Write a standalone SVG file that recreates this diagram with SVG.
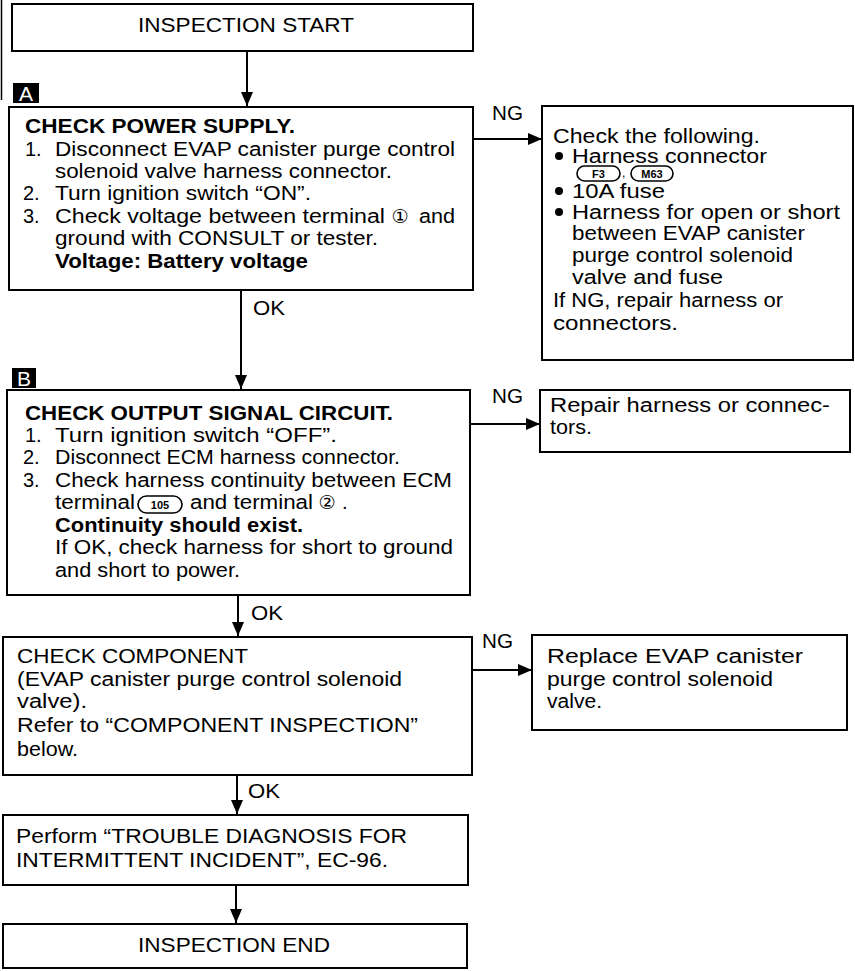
<svg xmlns="http://www.w3.org/2000/svg" width="855" height="971" viewBox="0 0 855 971">
<style>
.box{fill:#fff;stroke:#000;stroke-width:2}
.t{font-family:"Liberation Sans",Arial,Helvetica,sans-serif;font-size:20px;fill:#000}
.b{font-weight:bold}
.cap{fill:#fff;stroke:#000;stroke-width:1.6}
.ct{font-family:"Liberation Sans",Arial,Helvetica,sans-serif;font-size:11px;font-weight:bold;text-anchor:middle;fill:#000}
.circ{font-family:"DejaVu Sans",sans-serif;font-size:19px;text-anchor:middle;fill:#000}
.edge{stroke:#000;stroke-width:2;fill:none}
.tag{fill:#000}
.tagt{font-family:"Liberation Sans",Arial,sans-serif;font-size:21px;fill:#fff;text-anchor:middle}
</style>
<defs>
<marker id="ah" markerUnits="userSpaceOnUse" markerWidth="14" markerHeight="12" refX="14" refY="6" orient="auto">
<path d="M0,0 L14,6 L0,12 z" fill="#000"/>
</marker>
</defs>
<line x1="1.5" y1="0" x2="1.5" y2="100" stroke="#000" stroke-width="1.5"/>

<g id="start">
<rect class="box" x="12" y="4" width="461" height="47"/>
<text class="t" x="138" y="32" textLength="216" lengthAdjust="spacingAndGlyphs">INSPECTION START</text>
</g>

<g id="tagA">
<rect class="tag" x="13" y="83" width="26" height="20"/>
<text class="tagt" x="26" y="101">A</text>
</g>

<g id="checkPower">
<rect class="box" x="9" y="107" width="464" height="183"/>
<text class="t b" x="25" y="133" textLength="270" lengthAdjust="spacingAndGlyphs">CHECK POWER SUPPLY.</text>
<text class="t" x="25" y="156">1.</text>
<text class="t" x="55" y="156" textLength="400" lengthAdjust="spacingAndGlyphs">Disconnect EVAP canister purge control</text>
<text class="t" x="55" y="178" textLength="337" lengthAdjust="spacingAndGlyphs">solenoid valve harness connector.</text>
<text class="t" x="23" y="200">2.</text>
<text class="t" x="55" y="200" textLength="256" lengthAdjust="spacingAndGlyphs">Turn ignition switch “ON”.</text>
<text class="t" x="23" y="223">3.</text>
<text class="t" x="55" y="223" textLength="330" lengthAdjust="spacingAndGlyphs">Check voltage between terminal</text>
<text class="circ" x="400" y="223">①</text>
<text class="t" x="419" y="223" textLength="36" lengthAdjust="spacingAndGlyphs">and</text>
<text class="t" x="55" y="245" textLength="323" lengthAdjust="spacingAndGlyphs">ground with CONSULT or tester.</text>
<text class="t b" x="55" y="268" textLength="253" lengthAdjust="spacingAndGlyphs">Voltage: Battery voltage</text>
</g>

<g id="checkFollowing">
<rect class="box" x="542" y="106" width="311" height="254"/>
<text class="t" x="553" y="143" textLength="207" lengthAdjust="spacingAndGlyphs">Check the following.</text>
<circle cx="559" cy="156" r="4"/>
<text class="t" x="572" y="163" textLength="195" lengthAdjust="spacingAndGlyphs">Harness connector</text>
<rect class="cap" x="577" y="166" width="43" height="15" rx="7.5"/>
<text class="ct" x="598.5" y="177.5">F3</text>
<text class="t" x="622" y="177" style="font-size:12px">,</text>
<rect class="cap" x="631" y="166" width="42" height="15" rx="7.5"/>
<text class="ct" x="652" y="177.5">M63</text>
<circle cx="559" cy="191" r="4"/>
<text class="t" x="572" y="198" textLength="93" lengthAdjust="spacingAndGlyphs">10A fuse</text>
<circle cx="559" cy="212" r="4"/>
<text class="t" x="572" y="219" textLength="268" lengthAdjust="spacingAndGlyphs">Harness for open or short</text>
<text class="t" x="572" y="240" textLength="233" lengthAdjust="spacingAndGlyphs">between EVAP canister</text>
<text class="t" x="572" y="262" textLength="221" lengthAdjust="spacingAndGlyphs">purge control solenoid</text>
<text class="t" x="572" y="284" textLength="151" lengthAdjust="spacingAndGlyphs">valve and fuse</text>
<text class="t" x="553" y="307" textLength="230" lengthAdjust="spacingAndGlyphs">If NG, repair harness or</text>
<text class="t" x="553" y="330" textLength="125" lengthAdjust="spacingAndGlyphs">connectors.</text>
</g>

<g id="tagB">
<rect class="tag" x="12" y="368" width="24" height="20"/>
<text class="tagt" x="24" y="386">B</text>
</g>

<g id="checkOutput">
<rect class="box" x="7" y="390" width="463" height="205"/>
<text class="t b" x="25" y="420" textLength="368" lengthAdjust="spacingAndGlyphs">CHECK OUTPUT SIGNAL CIRCUIT.</text>
<text class="t" x="25" y="442">1.</text>
<text class="t" x="55" y="442" textLength="282" lengthAdjust="spacingAndGlyphs">Turn ignition switch “OFF”.</text>
<text class="t" x="23" y="464">2.</text>
<text class="t" x="55" y="464" textLength="345" lengthAdjust="spacingAndGlyphs">Disconnect ECM harness connector.</text>
<text class="t" x="23" y="487">3.</text>
<text class="t" x="55" y="487" textLength="397" lengthAdjust="spacingAndGlyphs">Check harness continuity between ECM</text>
<text class="t" x="55" y="509" textLength="80" lengthAdjust="spacingAndGlyphs">terminal</text>
<rect class="cap" x="138" y="496" width="44" height="17" rx="8.5"/>
<text class="ct" x="160" y="508.5">105</text>
<text class="t" x="190" y="509" textLength="123" lengthAdjust="spacingAndGlyphs">and terminal</text>
<text class="circ" x="327" y="509">②</text>
<text class="t" x="342" y="509">.</text>
<text class="t b" x="55" y="532" textLength="248" lengthAdjust="spacingAndGlyphs">Continuity should exist.</text>
<text class="t" x="55" y="554" textLength="398" lengthAdjust="spacingAndGlyphs">If OK, check harness for short to ground</text>
<text class="t" x="55" y="577" textLength="185" lengthAdjust="spacingAndGlyphs">and short to power.</text>
</g>

<g id="repairHarness">
<rect class="box" x="540" y="390" width="310" height="62"/>
<text class="t" x="550" y="412" textLength="280" lengthAdjust="spacingAndGlyphs">Repair harness or connec-</text>
<text class="t" x="550" y="434" textLength="42" lengthAdjust="spacingAndGlyphs">tors.</text>
</g>

<g id="checkComponent">
<rect class="box" x="3" y="637" width="469" height="138"/>
<text class="t" x="17" y="663" textLength="231" lengthAdjust="spacingAndGlyphs">CHECK COMPONENT</text>
<text class="t" x="17" y="686" textLength="385" lengthAdjust="spacingAndGlyphs">(EVAP canister purge control solenoid</text>
<text class="t" x="17" y="708" textLength="70" lengthAdjust="spacingAndGlyphs">valve).</text>
<text class="t" x="17" y="732" textLength="401" lengthAdjust="spacingAndGlyphs">Refer to “COMPONENT INSPECTION”</text>
<text class="t" x="17" y="756" textLength="61" lengthAdjust="spacingAndGlyphs">below.</text>
</g>

<g id="replaceValve">
<rect class="box" x="532" y="635" width="315" height="95"/>
<text class="t" x="547" y="663" textLength="256" lengthAdjust="spacingAndGlyphs">Replace EVAP canister</text>
<text class="t" x="547" y="686" textLength="226" lengthAdjust="spacingAndGlyphs">purge control solenoid</text>
<text class="t" x="547" y="708" textLength="55" lengthAdjust="spacingAndGlyphs">valve.</text>
</g>

<g id="perform">
<rect class="box" x="3" y="815" width="465" height="70"/>
<text class="t" x="16" y="843" textLength="391" lengthAdjust="spacingAndGlyphs">Perform “TROUBLE DIAGNOSIS FOR</text>
<text class="t" x="16" y="867" textLength="372" lengthAdjust="spacingAndGlyphs">INTERMITTENT INCIDENT”, EC-96.</text>
</g>

<g id="end">
<rect class="box" x="3" y="924" width="464" height="44"/>
<text class="t" x="138" y="952" textLength="192" lengthAdjust="spacingAndGlyphs">INSPECTION END</text>
</g>

<g id="connectors">
<line class="edge" x1="247" y1="51" x2="247" y2="106" marker-end="url(#ah)"/>
<line class="edge" x1="473" y1="139" x2="542" y2="139" marker-end="url(#ah)"/>
<text class="t" x="492" y="120" textLength="31" lengthAdjust="spacingAndGlyphs">NG</text>
<line class="edge" x1="241" y1="290" x2="241" y2="389" marker-end="url(#ah)"/>
<text class="t" x="253" y="315" textLength="32" lengthAdjust="spacingAndGlyphs">OK</text>
<line class="edge" x1="470" y1="424" x2="540" y2="424" marker-end="url(#ah)"/>
<text class="t" x="492" y="403" textLength="31" lengthAdjust="spacingAndGlyphs">NG</text>
<line class="edge" x1="238" y1="595" x2="238" y2="636" marker-end="url(#ah)"/>
<text class="t" x="251" y="620" textLength="32" lengthAdjust="spacingAndGlyphs">OK</text>
<line class="edge" x1="472" y1="670" x2="532" y2="670" marker-end="url(#ah)"/>
<text class="t" x="482" y="648" textLength="31" lengthAdjust="spacingAndGlyphs">NG</text>
<line class="edge" x1="237" y1="775" x2="237" y2="814" marker-end="url(#ah)"/>
<text class="t" x="248" y="798" textLength="32" lengthAdjust="spacingAndGlyphs">OK</text>
<line class="edge" x1="236" y1="885" x2="236" y2="923" marker-end="url(#ah)"/>
</g>
</svg>
